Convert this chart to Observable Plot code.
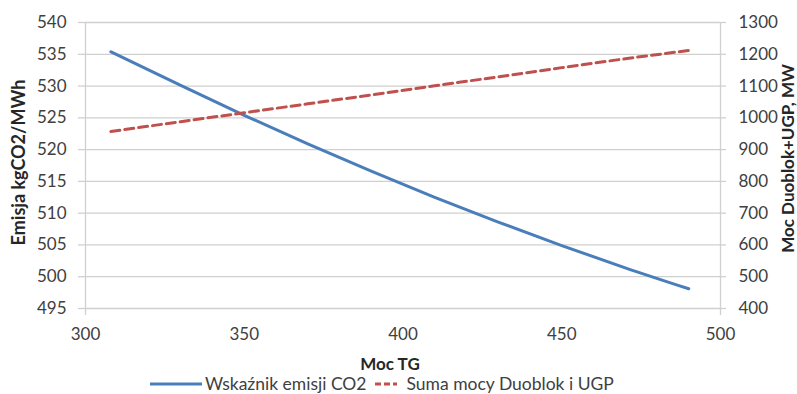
<!DOCTYPE html>
<html>
<head>
<meta charset="utf-8">
<script src="https://cdn.jsdelivr.net/npm/d3@7"></script>
<script src="https://cdn.jsdelivr.net/npm/@observablehq/plot@0.6"></script>
<style>
  body { margin: 0; background: #fff; font-family: Lato, "Open Sans", sans-serif; overflow: hidden; }
  #legend { display: flex; align-items: center; height: 20px; line-height: 20px; padding-left: 150px; font-size: 17.5px; color: #404040; white-space: nowrap; }
</style>
</head>
<body>
<div id="chart"></div>
<div id="legend">
  <svg width="52" height="6"><line x1="0" y1="3" x2="52" y2="3" stroke="#4a7ebb" stroke-width="3"/></svg>
  <span style="margin-left:3px">Wskaźnik emisji CO2</span>
  <svg width="22" height="6" style="margin-left:8px"><line x1="0" y1="3" x2="22" y2="3" stroke="#c0504d" stroke-width="3" stroke-dasharray="6,3"/></svg>
  <span style="margin-left:10px">Suma mocy Duoblok i UGP</span>
</div>
<script>
// Data
const mocTG    = [308, 330, 350, 370, 390, 410, 430, 450, 470, 490];
const emisja   = [535.4, 530.1, 525.4, 520.9, 516.6, 512.5, 508.6, 504.9, 501.4, 498.1];
const sumaMocy = [957, 988, 1016, 1044, 1072, 1101, 1129, 1158, 1186, 1212];

const xTicks      = [300, 350, 400, 450, 500];
const yLeftTicks  = [495, 500, 505, 510, 515, 520, 525, 530, 535, 540];
const yRightTicks = [400, 500, 600, 700, 800, 900, 1000, 1100, 1200, 1300];

const leftTitle  = "Emisja kgCO2/MWh";
const rightTitle = "Moc Duoblok+UGP, MW";
const xTitle     = "Moc TG";

// map right axis (MW) onto the left scale domain
const toLeft   = v => 495 + (v - 400) * 45 / 900;
const fromLeft = y => String(Math.round(400 + (y - 495) * 900 / 45));

const rows = mocTG.map((x, i) => ({x, e: emisja[i], s: toLeft(sumaMocy[i])}));

const grid = "#d0d0d0";
const chart = Plot.plot({
  width: 797,
  height: 374,
  marginTop: 22,
  marginBottom: 66,
  marginLeft: 85,
  marginRight: 77,
  x: {domain: [300, 500]},
  y: {domain: [495, 540]},
  style: {fontFamily: "Lato, 'Open Sans', sans-serif", fontSize: "17px", color: "#404040", background: "#fff"},
  marks: [
    Plot.ruleY(yLeftTicks, {stroke: grid, strokeWidth: 1.3}),
    Plot.ruleX([300, 500], {stroke: grid, strokeWidth: 1.3, insetBottom: -7}),
    Plot.axisY(yLeftTicks, {anchor: "left", tickSize: 7, tickPadding: 12, stroke: grid, strokeWidth: 1.3, fill: "#404040", label: null}),
    Plot.axisY(yRightTicks.map(toLeft), {anchor: "right", tickSize: 5, tickPadding: 13, tickFormat: fromLeft, stroke: grid, strokeWidth: 1.3, fill: "#404040", label: null}),
    Plot.axisX(xTicks, {tickSize: 0, tickPadding: 19, fill: "#404040", label: null}),
    Plot.line(rows, {x: "x", y: "e", stroke: "#4a7ebb", strokeWidth: 3, curve: "monotone-x"}),
    Plot.line(rows, {x: "x", y: "s", stroke: "#c0504d", strokeWidth: 3, strokeDasharray: "9,5"}),
    Plot.text([leftTitle], {frameAnchor: "left", textAnchor: "middle", rotate: -90, dx: -66, dy: -3, fontWeight: "bold", fontSize: 18, fill: "#262626"}),
    Plot.text([rightTitle], {frameAnchor: "right", textAnchor: "middle", rotate: -90, dx: 68, dy: -7, fontWeight: "bold", fontSize: 17, fill: "#262626"}),
    Plot.text([xTitle], {frameAnchor: "bottom", dx: -13, dy: 61, fontWeight: "bold", fontSize: 17, fill: "#262626"})
  ]
});
document.getElementById("chart").appendChild(chart);
</script>
</body>
</html>
